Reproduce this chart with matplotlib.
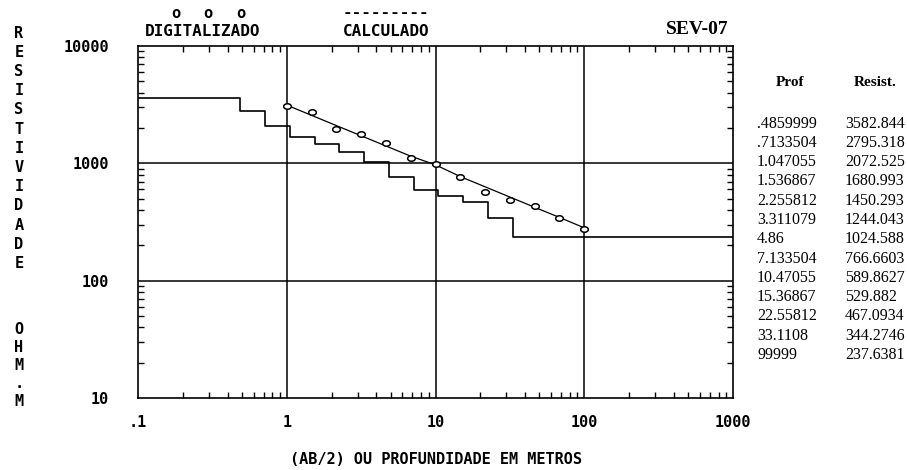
import matplotlib
matplotlib.use("Agg")
import matplotlib.pyplot as plt
import numpy as np
from matplotlib.path import Path
from matplotlib.ticker import FixedLocator, LogLocator, NullFormatter, FixedFormatter

# Layer model (depth to bottom of layer, resistivity)
prof = [0.4859999, 0.7133504, 1.047055, 1.536867, 2.255812, 3.311079, 4.86,
        7.133504, 10.47055, 15.36867, 22.55812, 33.1108, 99999]
resist = [3582.844, 2795.318, 2072.525, 1680.993, 1450.293, 1244.043, 1024.588,
          766.6603, 589.8627, 529.882, 467.0934, 344.2746, 237.6381]

# Sounding curve: AB/2 spacing, digitised and calculated apparent resistivity
ab2 = [1.0, 1.468, 2.154, 3.162, 4.642, 6.813, 10.0, 14.68, 21.54, 31.62,
       46.42, 68.13, 100.0]
rho_dig = [3085, 2728, 1978, 1773, 1486, 1114, 980, 772, 572, 486, 435, 339, 275]
rho_calc = [3134, 2566, 2098, 1718, 1406, 1151, 971, 771, 631, 516, 422, 346, 282]

x_ticks = [0.1, 1, 10, 100, 1000]
x_tick_labels = [".1", "1", "10", "100", "1000"]
y_ticks = [10, 100, 1000, 10000]
y_tick_labels = ["10", "100", "1000", "10000"]

W, H = 907, 470
MONO = "DejaVu Sans Mono"
SERIF = "Liberation Serif"


def fx(px):
    return px / W


def fy(py):
    return 1 - py / H


def fmt(v):
    s = repr(v)
    if s.endswith(".0"):
        s = s[:-2]
    if s.startswith("0."):
        s = s[1:]
    return s


fig = plt.figure(figsize=(W / 100, H / 100), dpi=100)
fig.patch.set_facecolor("white")

ax = fig.add_axes([fx(138), fy(398), (733 - 138) / W, (398 - 46) / H])
ax.set_xscale("log")
ax.set_yscale("log")
ax.set_xlim(0.1, 1000)
ax.set_ylim(10, 10000)

for s in ax.spines.values():
    s.set_linewidth(1.2)
    s.set_color("black")

# decade grid
for xv in x_ticks[1:-1]:
    ax.axvline(xv, color="black", lw=1.1, zorder=1)
for yv in y_ticks[1:-1]:
    ax.axhline(yv, color="black", lw=1.1, zorder=1)

ax.xaxis.set_major_locator(FixedLocator(x_ticks))
ax.xaxis.set_major_formatter(FixedFormatter(x_tick_labels))
ax.yaxis.set_major_locator(FixedLocator(y_ticks))
ax.yaxis.set_major_formatter(FixedFormatter(y_tick_labels))
ax.xaxis.set_minor_locator(LogLocator(base=10, subs=range(2, 10), numticks=20))
ax.yaxis.set_minor_locator(LogLocator(base=10, subs=range(2, 10), numticks=20))
ax.xaxis.set_minor_formatter(NullFormatter())
ax.yaxis.set_minor_formatter(NullFormatter())

ax.tick_params(which="major", length=0, labelsize=11)
ax.tick_params(axis="x", which="major", pad=12)
ax.tick_params(axis="y", which="major", pad=21)
ax.tick_params(which="minor", direction="in", length=4, width=1.0,
               top=True, bottom=True, left=True, right=True)
for lab in ax.get_xticklabels() + ax.get_yticklabels():
    lab.set_fontfamily(MONO)
    lab.set_fontweight("bold")

# layered model as a staircase
step_x = [0.1] + prof
step_y = resist + [resist[-1]]
ax.plot(step_x, step_y, drawstyle="steps-post", color="black", lw=1.2, zorder=3)

ax.plot(ab2, rho_calc, color="black", lw=0.9, zorder=4)
t = np.linspace(0, 2 * np.pi, 40)
ellipse = Path(np.column_stack([np.cos(t), 0.72 * np.sin(t)]), closed=True)
ax.plot(ab2, rho_dig, linestyle="none", marker=ellipse, markersize=5.5,
        markerfacecolor="white", markeredgecolor="black", markeredgewidth=1.1,
        zorder=5)

# legend-like headings
for xo in (176, 208, 241):
    fig.text(fx(xo), fy(14), "o", family=MONO, weight="bold", fontsize=11,
             ha="center", va="center")
fig.text(fx(203), fy(32), "DIGITALIZADO", family=MONO, weight="bold",
         fontsize=11.5, ha="center", va="center")
fig.text(fx(386), fy(12), "---------", family=MONO, weight="bold",
         fontsize=11.5, ha="center", va="center")
fig.text(fx(386), fy(32), "CALCULADO", family=MONO, weight="bold",
         fontsize=11.5, ha="center", va="center")
fig.text(fx(729), fy(30), "SEV-07", family=SERIF, weight="bold",
         fontsize=14, ha="right", va="center")

# vertical axis title, one letter per row
letters_top = "RESISTIVIDADE"
for i, ch in enumerate(letters_top):
    fig.text(fx(19), fy(33 + i * 19.2), ch, family=MONO, weight="bold",
             fontsize=11, ha="center", va="center")
for ch, yy in zip("OHM.M", [330, 348, 366, 383, 401]):
    fig.text(fx(19), fy(yy), ch, family=MONO, weight="bold",
             fontsize=11, ha="center", va="center")

fig.text(fx(436), fy(459), "(AB/2) OU PROFUNDIDADE EM METROS", family=MONO,
         weight="bold", fontsize=11, ha="center", va="center")

# model table
fig.text(fx(790), fy(82), "Prof", family=SERIF, weight="bold", fontsize=11,
         ha="center", va="center")
fig.text(fx(875), fy(82), "Resist.", family=SERIF, weight="bold", fontsize=11,
         ha="center", va="center")
for i, (p, r) in enumerate(zip(prof, resist)):
    yy = 123.5 + i * 19.3
    fig.text(fx(757), fy(yy), fmt(p), family=SERIF, fontsize=11.5,
             ha="left", va="center")
    fig.text(fx(845), fy(yy), fmt(r), family=SERIF, fontsize=11.5,
             ha="left", va="center")

fig.savefig("out.png", dpi=100, facecolor="white")
